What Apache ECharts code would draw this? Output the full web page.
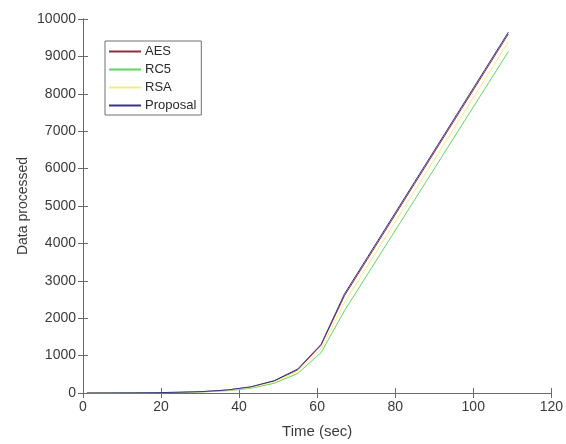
<!DOCTYPE html>
<html>
<head>
<meta charset="utf-8">
<script src="https://cdn.jsdelivr.net/npm/echarts@6/dist/echarts.min.js"></script>
<style>
  html, body { margin: 0; padding: 0; background: #fff; }
  #chart { width: 566px; height: 444px; }
</style>
</head>
<body>
<div id="chart"></div>
<script>
// Sample times (sec)
const times = [1, 7, 13, 19, 25, 31, 37, 43, 49, 55, 61, 67, 73, 79, 85, 91, 97, 103, 109];

// Data processed per algorithm
const aes      = [0, 2, 5, 10, 20, 40, 80, 160, 320, 620, 1280, 2600, 3600, 4600, 5600, 6600, 7600, 8600, 9600];
const rc5      = [0, 1, 3, 7, 15, 30, 62, 125, 260, 520, 1080, 2200, 3190, 4180, 5170, 6160, 7150, 8140, 9130];
const rsa      = [0, 2, 4, 9, 18, 36, 72, 145, 295, 575, 1180, 2420, 3415, 4410, 5405, 6400, 7395, 8390, 9385];
const proposal = [0, 2, 5, 10, 20, 40, 80, 165, 330, 640, 1300, 2650, 3650, 4650, 5650, 6650, 7650, 8650, 9650];

const seriesNames = ['AES', 'RC5', 'RSA', 'Proposal'];
const seriesData = [aes, rc5, rsa, proposal];
const seriesColors = ['#8e2f3c', '#62d462', '#f2ee7e', '#35358a'];

const xTicks = { min: 0, max: 120, interval: 20 };
const yTicks = { min: 0, max: 10000, interval: 1000 };

const FONT = '"Liberation Sans", Arial, Helvetica, sans-serif';
const axisColor = '#6a6a6a';
const labelColor = '#3a3a3a';

const chart = echarts.init(document.getElementById('chart'));

function pairs(ys) { return times.map((t, i) => [t, ys[i]]); }

const frameAxis = (extra) => Object.assign({
  type: 'value',
  axisLine: { show: true, lineStyle: { color: axisColor, width: 1 } },
  axisTick: { show: true, inside: true, length: 5, lineStyle: { color: axisColor } },
  splitLine: { show: false },
}, extra);

const plainNumber = (v) => String(v);

chart.setOption({
  animation: false,
  backgroundColor: '#ffffff',
  textStyle: { fontFamily: FONT },
  grid: { left: 83, right: 9, top: 19, bottom: 51, containLabel: false },
  legend: {
    data: seriesNames,
    orient: 'vertical',
    left: 105,
    top: 41,
    itemWidth: 32,
    itemHeight: 10,
    itemGap: 5,
    padding: [4, 5, 3, 3],
    borderColor: '#707070',
    borderWidth: 1,
    backgroundColor: '#ffffff',
    itemStyle: { opacity: 0 },
    textStyle: { fontFamily: FONT, fontSize: 13, color: '#2a2a2a', padding: [0, 0, 0, -1] },
  },
  xAxis: [
    frameAxis(Object.assign({
      position: 'bottom',
      name: 'Time (sec)',
      nameLocation: 'middle',
      nameGap: 31,
      nameMoveOverlap: false,
      nameTextStyle: { fontFamily: FONT, fontSize: 15, color: labelColor },
      axisLabel: { fontFamily: FONT, fontSize: 14, color: labelColor, margin: 7, formatter: plainNumber },
    }, xTicks)),
    frameAxis(Object.assign({ position: 'top', axisLabel: { show: false } }, xTicks)),
  ],
  yAxis: [
    frameAxis(Object.assign({
      position: 'left',
      name: 'Data processed',
      nameLocation: 'middle',
      nameGap: 53,
      nameMoveOverlap: false,
      nameRotate: 90,
      nameTextStyle: { fontFamily: FONT, fontSize: 14, color: labelColor },
      axisLabel: { fontFamily: FONT, fontSize: 14, color: labelColor, margin: 7, formatter: plainNumber },
    }, yTicks)),
    frameAxis(Object.assign({ position: 'right', axisLabel: { show: false } }, yTicks)),
  ],
  series: seriesNames.map((name, i) => ({
    name,
    type: 'line',
    xAxisIndex: 0,
    yAxisIndex: 0,
    data: pairs(seriesData[i]),
    symbol: 'none',
    lineStyle: { color: seriesColors[i], width: 1 },
    itemStyle: { color: seriesColors[i] },
    z: 2 + i,
  })),
});
</script>
</body>
</html>
